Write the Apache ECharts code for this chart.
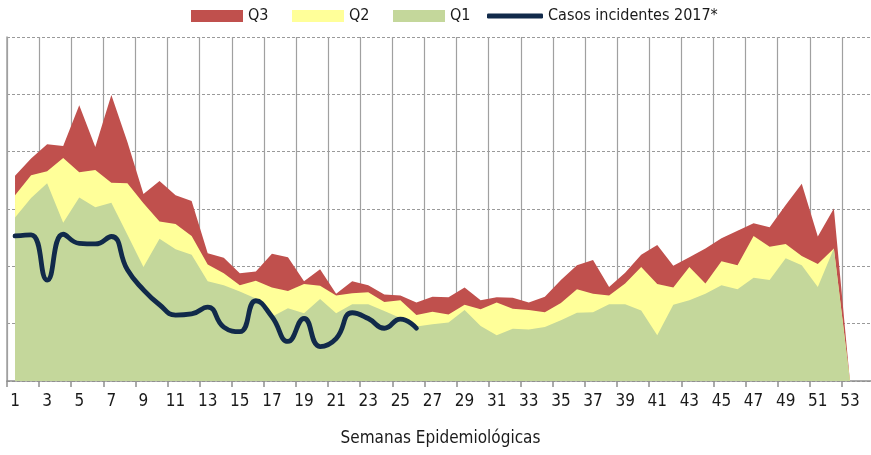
<!DOCTYPE html>
<html>
<head>
<meta charset="utf-8">
<script src="https://cdn.jsdelivr.net/npm/echarts@6/dist/echarts.min.js"></script>
<style>
html,body{margin:0;padding:0;background:#fff;}
#chart{width:871px;height:455px;}
</style>
</head>
<body>
<div id="chart"></div>
<script>
var weeks = [];
for (var i = 1; i <= 54; i++) weeks.push(String(i));

var q3 = [35.8,38.8,41.3,41.0,48.1,40.8,49.9,41.7,32.6,34.9,32.4,31.4,22.3,21.5,18.8,19.1,22.2,21.6,17.4,19.5,15.2,17.4,16.7,15.1,14.9,13.7,14.7,14.6,16.3,14.1,14.6,14.5,13.7,14.7,17.6,20.2,21.1,16.4,18.9,22.0,23.7,20.1,21.6,23.1,24.9,26.2,27.5,26.8,30.7,34.4,25.2,30.1,0];
var q2 = [32.4,35.9,36.6,38.9,36.4,36.8,34.6,34.5,31.0,27.8,27.4,25.3,20.3,18.8,16.7,17.5,16.3,15.7,16.9,16.6,14.9,15.3,15.5,13.8,14.1,11.5,12.1,11.6,13.3,12.5,13.7,12.6,12.4,12.0,13.6,16.0,15.2,14.9,17.0,19.9,16.9,16.3,19.9,17.0,20.9,20.2,25.3,23.4,23.9,21.8,20.4,23.1,0];
var q1 = [28.5,31.9,34.5,27.6,32.0,30.3,31.1,25.5,19.9,24.8,23.0,22.0,17.4,16.7,15.6,14.4,11.2,12.7,11.8,14.3,11.8,13.4,13.4,12.2,11.0,9.5,9.9,10.2,12.4,9.6,8.0,9.1,9.0,9.4,10.6,11.9,12.0,13.4,13.4,12.3,8.0,13.3,14.1,15.2,16.7,16.0,18.0,17.6,21.4,20.2,16.4,23.1,0];
var casos2017 = [25.3,25.5,17.6,25.6,24.0,23.9,25.2,19.4,15.9,13.3,11.5,11.7,12.9,9.4,8.6,14.0,11.2,6.9,10.9,6.0,7.4,11.9,10.9,9.2,10.8,9.2];

var FONT = '"Liberation Sans Narrow", "DejaVu Sans Condensed", "Liberation Sans", sans-serif';
var chart = echarts.init(document.getElementById('chart'), null, {renderer: 'canvas'});

function areaSeries(name, data, color) {
  return {
    name: name, type: 'line', data: data, symbol: 'none', showSymbol: false,
    lineStyle: {width: 0, color: color}, itemStyle: {color: color},
    areaStyle: {color: color, opacity: 1}, silent: true, animation: false
  };
}

function legendAt(name, left, w, h, icon, top) {
  return {
    data: [{name: name, icon: icon}], left: left, top: top, itemWidth: w, itemHeight: h, itemGap: 0,
    textStyle: {fontFamily: FONT, fontSize: 16, color: '#1a1a1a'},
    selectedMode: false
  };
}

chart.setOption({
  animation: false,
  backgroundColor: '#fff',
  legend: [
    legendAt('Q3', 186, 52, 12, 'rect', 3),
    legendAt('Q2', 287, 52, 12, 'rect', 3),
    legendAt('Q1', 388, 52, 12, 'rect', 3),
    legendAt('Casos incidentes 2017*', 482, 56, 5, 'roundRect', 3)
  ],
  grid: {left: 7, top: 37, width: 867, height: 344, containLabel: false, outerBoundsMode: 'none'},
  xAxis: {
    type: 'category', data: weeks, boundaryGap: true,
    name: 'Semanas Epidemiológicas', nameLocation: 'middle', nameGap: 49,
    nameTextStyle: {fontFamily: FONT, fontSize: 17, color: '#1a1a1a'},
    axisLine: {lineStyle: {color: '#8f8f8f', width: 1.5}},
    axisTick: {show: true, interval: 1, length: 6, lineStyle: {color: '#8f8f8f', width: 1.5}},
    axisLabel: {interval: 1, margin: 12, fontFamily: FONT, fontSize: 17, color: '#1a1a1a'},
    splitLine: {show: true, interval: 1, lineStyle: {color: '#a0a0a0', width: 1.2}}
  },
  yAxis: {
    type: 'value', min: 0, max: 60, interval: 10,
    axisLine: {show: true, lineStyle: {color: '#a0a0a0', width: 1.5}},
    axisTick: {show: false}, axisLabel: {show: false},
    splitLine: {show: true, lineStyle: {color: '#9a9a9a', width: 1, type: [3, 2]}}
  },
  series: [
    areaSeries('Q3', q3, '#C0504D'),
    areaSeries('Q2', q2, '#FFFF99'),
    areaSeries('Q1', q1, '#C4D79B'),
    {
      name: 'Casos incidentes 2017*', type: 'line', data: casos2017, smooth: 0.5,
      symbol: 'none', showSymbol: false,
      lineStyle: {width: 4.8, color: '#112A4A', cap: 'round', join: 'round'},
      itemStyle: {color: '#112A4A'}, z: 5
    }
  ]
});
</script>
</body>
</html>
